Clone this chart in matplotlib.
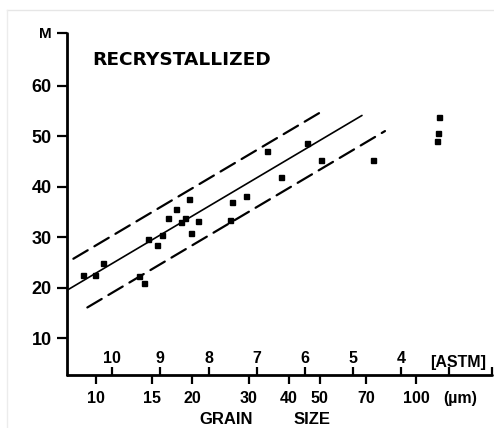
import matplotlib
matplotlib.use("Agg")
import matplotlib.pyplot as plt
import numpy as np
from matplotlib import font_manager
from matplotlib.lines import Line2D

# Grain size (µm) against M, recrystallized material
grain_size = [9.1, 9.9, 10.5, 13.6, 14.1, 14.5, 15.5, 16.1, 16.8, 17.8, 18.4,
              19.0, 19.6, 19.8, 20.9, 26.3, 26.6, 29.4, 34.3, 38.0, 45.5,
              50.5, 73.5, 118.0, 117.0, 116.0]
m_value = [22.6, 22.5, 25.0, 22.4, 20.9, 29.7, 28.4, 30.4, 33.8, 35.7, 33.0,
           33.8, 37.6, 30.8, 33.2, 33.4, 36.9, 38.2, 47.2, 41.9, 48.7,
           45.4, 45.4, 53.9, 50.6, 49.1]

# Regression M = a + b*log10(d) and the scatter band around it
fit_intercept = -14.7
fit_slope = 37.6
band_above = 5.5
band_below = 5.8
fit_span = [8.12, 67.8]
upper_span = [8.5, 50.0]
lower_span = [9.4, 80.0]

um_ticks = [10, 15, 20, 30, 40, 50, 70, 100]
um_labels = ["10", "15", "20", "30", "40", "50", "70", "100"]
astm_diam = [11.2, 15.9, 22.5, 31.8, 44.9, 63.5, 89.8, 127.0, 172.8]
astm_labels = ["10", "9", "8", "7", "6", "5", "4", "", ""]
m_ticks = [10, 20, 30, 40, 50, 60, 70.5]
m_labels = ["10", "20", "30", "40", "50", "60", "M"]


def have_font(name):
    try:
        font_manager.findfont(font_manager.FontProperties(family=name),
                              fallback_to_default=False)
        return True
    except Exception:
        return False


TICK_FONT = "Liberation Sans" if have_font("Liberation Sans") else "DejaVu Sans"
NARROW_FONT = "Liberation Sans Narrow" if have_font("Liberation Sans Narrow") else TICK_FONT

W, H = 494, 428
fig = plt.figure(figsize=(W / 100, H / 100), dpi=100)
fig.patch.set_facecolor("white")


def fx(px):
    return px / W


def fy(py):
    return 1 - py / H


ax = fig.add_axes([fx(67), fy(375), fx(492) - fx(67), fy(33) - fy(375)])
ax.set_xscale("log")
ax.set_xlim(8.12, 172.8)
ax.set_ylim(2.7, 70.5)

for s in ("top", "right"):
    ax.spines[s].set_visible(False)
for s in ("left", "bottom"):
    ax.spines[s].set_linewidth(2.0)
    ax.spines[s].set_capstyle("round")

ax.xaxis.set_minor_locator(matplotlib.ticker.NullLocator())
ax.set_xticks(um_ticks)
ax.set_xticklabels(um_labels)
ax.set_yticks(m_ticks)
ax.set_yticklabels(m_labels)
ax.tick_params(axis="y", length=7.5, width=1.6, pad=3.5, labelsize=13)
ax.tick_params(axis="x", length=6.5, width=1.6, pad=5.0, labelsize=11.5)
for lab in ax.get_xticklabels() + ax.get_yticklabels():
    lab.set_fontfamily(TICK_FONT)
    lab.set_fontweight("bold")
ax.get_yticklabels()[-1].set_fontsize(11)

# ASTM grain-size numbers on the same axis line, ticks pointing up
ax2 = ax.twiny()
ax2.set_xscale("log")
ax2.set_xlim(ax.get_xlim())
ax2.spines["top"].set_position(("axes", 0.0))
for s in ("top", "bottom", "left", "right"):
    ax2.spines[s].set_visible(False)
ax2.xaxis.set_minor_locator(matplotlib.ticker.NullLocator())
ax2.set_xticks(astm_diam)
ax2.set_xticklabels(astm_labels)
ax2.tick_params(axis="x", length=5.5, width=1.6, pad=1.0, labelsize=11.5)
for lab in ax2.get_xticklabels():
    lab.set_fontfamily(TICK_FONT)
    lab.set_fontweight("bold")

# Regression line and band
xs = np.array(fit_span)
ax.plot(xs, fit_intercept + fit_slope * np.log10(xs), color="black",
        lw=1.2, solid_capstyle="round")
xu = np.array(upper_span)
ax.plot(xu, fit_intercept + band_above + fit_slope * np.log10(xu),
        color="black", lw=1.6, dashes=(7.5, 3.5), dash_capstyle="round")
xl = np.array(lower_span)
ax.plot(xl, fit_intercept - band_below + fit_slope * np.log10(xl),
        color="black", lw=1.6, dashes=(7.5, 3.5), dash_capstyle="round")

ax.plot(grain_size, m_value, linestyle="none", marker="s", ms=3.6,
        color="black", zorder=5)

fig.text(fx(92), fy(65), "RECRYSTALLIZED", family="DejaVu Sans",
         fontweight="bold", fontsize=13.3, ha="left", va="baseline")
fig.text(fx(460), fy(403), "(µm)", family=TICK_FONT, fontweight="bold",
         fontsize=11.5, ha="center", va="baseline")
fig.text(fx(458), fy(367), "[ASTM]", family=TICK_FONT, fontweight="bold",
         fontsize=11.5, ha="center", va="baseline")
fig.text(fx(226), fy(424), "GRAIN", family=NARROW_FONT, fontweight="bold",
         fontsize=12, ha="center", va="baseline")
fig.text(fx(312), fy(424), "SIZE", family=NARROW_FONT, fontweight="bold",
         fontsize=12, ha="center", va="baseline")

# faint scan border
fig.add_artist(Line2D([fx(7), 1.0], [fy(10), fy(10)], color="#e6e6e6", lw=1.0))
fig.add_artist(Line2D([fx(7), fx(7)], [fy(10), 0.0], color="#ececec", lw=1.0))

fig.savefig("out.png", dpi=100, facecolor="white")
